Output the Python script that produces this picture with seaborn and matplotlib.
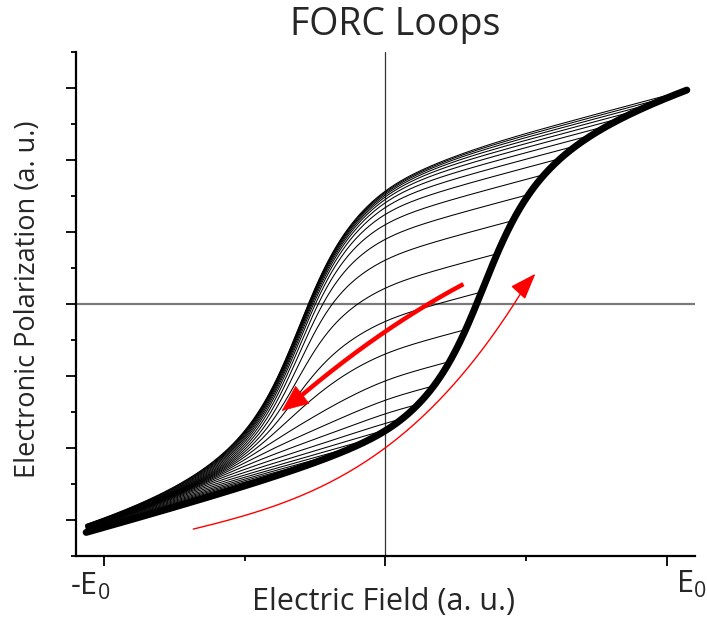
import numpy as np
import pandas as pd
import matplotlib
matplotlib.use("Agg")
import matplotlib.pyplot as plt
import seaborn as sns

# Major loop branches (field E in units of E0, polarization in a.u.)
lower_E = [-1.064, -0.844, -0.610, -0.372, -0.230, -0.078, 0.043, 0.149, 0.223, 0.277,
           0.323, 0.362, 0.404, 0.454, 0.504, 0.560, 0.631, 0.720, 0.809, 0.904, 0.986, 1.071]
lower_P = [-3.069, -2.903, -2.681, -2.403, -2.208, -1.903, -1.653, -1.333, -0.958, -0.542,
           0.014, 0.472, 0.889, 1.194, 1.472, 1.722, 1.986, 2.250, 2.472, 2.694, 2.875, 3.083]
upper_E = [-1.064, -0.904, -0.727, -0.585, -0.489, -0.418, -0.372, -0.301, -0.266, -0.195,
           -0.135, -0.064, 0.007, 0.099, 0.220, 0.454, 0.691, 0.929, 1.071]
upper_P = [-3.069, -2.819, -2.486, -2.069, -1.708, -1.236, -0.819, -0.222, 0.014, 0.611,
           0.986, 1.306, 1.542, 1.764, 1.958, 2.375, 2.694, 2.931, 3.083]

# Reversal fields of the first-order reversal curves
reversal_fields = [1.071, 1.015, 0.959, 0.902, 0.846, 0.790, 0.734, 0.678, 0.622, 0.565,
                   0.509, 0.453, 0.397, 0.341, 0.285, 0.228, 0.172, 0.116, 0.060, 0.004,
                   -0.053, -0.109, -0.165, -0.221, -0.277, -0.334, -0.390, -0.446, -0.502,
                   -0.558, -0.614, -0.671, -0.727, -0.783, -0.839, -0.895, -0.951, -1.008]

# Guide arrows (direction of field sweep)
sweep_up_E = [-0.683, -0.373, -0.124, 0.000, 0.114, 0.231, 0.348, 0.444, 0.504]
sweep_up_P = [-3.14, -2.72, -2.35, -2.03, -1.65, -1.15, -0.54, -0.08, 0.26]
sweep_up_tip = (0.533, 0.42)
sweep_down_E = [0.277, 0.124, 0.007, -0.135, -0.256, -0.300]
sweep_down_P = [0.264, -0.042, -0.361, -0.778, -1.153, -1.25]
sweep_down_tip = (-0.369, -1.486)

E_MIN, E_MAX = lower_E[0], lower_E[-1]


# ---------------------------------------------------------------------------
# Preisach hysteron model: each hysteron switches up at alpha = Eu + Ec and
# down at beta = Eu - Ec, with Lorentzian distributions of Ec and Eu, plus a
# reversible A*tanh(E/b) contribution.  Parameters are fitted to the branches.
# ---------------------------------------------------------------------------
Ec_grid = np.linspace(0.001, 3.0, 1500)


def unpack(p):
    A, logb, S, u0, log_gu, c, log_gc = p
    return A, np.exp(logb), S, u0, np.exp(log_gu), c, np.exp(log_gc)


def polarization(p, E, Er):
    """Polarization on the descending curve from reversal field Er down to E."""
    A, b, S, u0, gu, c, gc = unpack(p)
    w = 1.0 / (1.0 + ((Ec_grid - c) / gc) ** 2)
    w = w / w.sum()
    E = np.atleast_1d(np.asarray(E, float))
    Er = np.broadcast_to(np.asarray(Er, float), E.shape)
    bound = np.minimum(Er[:, None] - Ec_grid[None, :], E[:, None] + Ec_grid[None, :])
    up = (0.5 + np.arctan((bound - u0) / gu) / np.pi) @ w
    return A * np.tanh(E / b) - S + 2 * S * up


def loss(p):
    A, b, S, u0, gu, c, gc = unpack(p)
    if not (0.003 < gu < 1.0 and 0.003 < gc < 1.0 and 0.02 < b < 20 and S > 0):
        return 1e6
    r1 = polarization(p, lower_E, lower_E) - np.asarray(lower_P)
    r2 = polarization(p, upper_E, E_MAX) - np.asarray(upper_P)
    return float(np.sum(r1 ** 2) + np.sum(r2 ** 2) + 2 * r1[0] ** 2 + 2 * r2[0] ** 2)


def nelder_mead(f, x0, steps, n_iter=2500):
    n = len(x0)
    simplex = [np.array(x0, float)]
    for i in range(n):
        x = np.array(x0, float)
        x[i] += steps[i]
        simplex.append(x)
    simplex = np.array(simplex)
    vals = np.array([f(x) for x in simplex])
    for _ in range(n_iter):
        order = np.argsort(vals)
        simplex, vals = simplex[order], vals[order]
        if vals[-1] - vals[0] < 1e-12:
            break
        centroid = simplex[:-1].mean(axis=0)
        xr = centroid + (centroid - simplex[-1])
        fr = f(xr)
        if fr < vals[0]:
            xe = centroid + 2 * (centroid - simplex[-1])
            fe = f(xe)
            if fe < fr:
                simplex[-1], vals[-1] = xe, fe
            else:
                simplex[-1], vals[-1] = xr, fr
        elif fr < vals[-2]:
            simplex[-1], vals[-1] = xr, fr
        else:
            if fr < vals[-1]:
                xc = centroid + 0.5 * (xr - centroid)
            else:
                xc = centroid + 0.5 * (simplex[-1] - centroid)
            fc = f(xc)
            if fc < min(fr, vals[-1]):
                simplex[-1], vals[-1] = xc, fc
            else:
                simplex[1:] = simplex[0] + 0.5 * (simplex[1:] - simplex[0])
                vals[1:] = [f(x) for x in simplex[1:]]
    return simplex[np.argmin(vals)]


starts = [
    [1.2, np.log(1.2), 2.2, 0.03, np.log(0.05), 0.30, np.log(0.06)],
    [0.8, np.log(0.6), 2.4, 0.02, np.log(0.08), 0.28, np.log(0.04)],
    [1.5, np.log(2.0), 2.0, 0.04, np.log(0.03), 0.32, np.log(0.10)],
]
steps = np.array([0.3, 0.3, 0.3, 0.03, 0.4, 0.05, 0.4])
best, best_val = None, np.inf
for s in starts:
    p = np.array(s, float)
    for scale in (1.0, 0.3, 0.1):
        p = nelder_mead(loss, p, steps * scale)
    v = loss(p)
    if v < best_val:
        best, best_val = p, v
params = best

# Reversal curves: each descends from its reversal point on the ascending branch
frames = []
for i, Er in enumerate(reversal_fields):
    E = np.linspace(E_MIN, Er, 300)
    frames.append(pd.DataFrame({"E": E, "P": polarization(params, E, Er), "curve": i}))
forc = pd.concat(frames, ignore_index=True)

E_branch = np.linspace(E_MIN, E_MAX, 700)
branch = pd.DataFrame({"E": E_branch, "P": polarization(params, E_branch, E_branch)})

sns.set_style("ticks")
plt.rcParams["font.family"] = ["Open Sans", "DejaVu Sans"]
plt.rcParams["mathtext.fontset"] = "custom"
plt.rcParams["mathtext.rm"] = "Open Sans"
plt.rcParams["mathtext.it"] = "Open Sans:italic"

fig = plt.figure(figsize=(7.07, 6.18), dpi=100)
ax = fig.add_axes([0.1075, 0.1003, 0.8755, 0.8156])

ax.axhline(0, color="#7a7a7a", lw=1.6, zorder=1)
ax.axvline(0, color="#333333", lw=0.9, zorder=1)

sns.lineplot(data=forc, x="E", y="P", units="curve", estimator=None, sort=False,
             color="black", lw=0.75, ax=ax, zorder=3, legend=False)
sns.lineplot(data=branch, x="E", y="P", estimator=None, sort=False,
             color="black", lw=5.0, ax=ax, zorder=4, legend=False)

# sweep-direction arrows (smooth guide curves)
up_E = np.linspace(sweep_up_E[0], sweep_up_E[-1], 150)
up_P = np.polyval(np.polyfit(sweep_up_E, sweep_up_P, 3), up_E)
ax.plot(up_E, up_P, color="red", lw=1.0, zorder=5)
ax.annotate("", xy=sweep_up_tip, xytext=(up_E[-1], up_P[-1]),
            arrowprops=dict(arrowstyle="-|>,head_length=0.55,head_width=0.2",
                            mutation_scale=30, color="red", lw=1.0,
                            shrinkA=0, shrinkB=0), zorder=5)
dn_E = np.linspace(sweep_down_E[0], sweep_down_E[-1], 150)
dn_P = np.polyval(np.polyfit(sweep_down_E, sweep_down_P, 2), dn_E)
ax.plot(dn_E, dn_P, color="red", lw=3.2, zorder=5, solid_capstyle="butt")
ax.annotate("", xy=sweep_down_tip, xytext=(dn_E[-1], dn_P[-1]),
            arrowprops=dict(arrowstyle="-|>,head_length=0.7,head_width=0.3",
                            mutation_scale=26, color="red", lw=0.5,
                            shrinkA=0, shrinkB=0), zorder=5)

ax.set_xlim(-1.1, 1.1)
ax.set_ylim(-3.5, 3.5)
ax.set_xticks([-1, 0, 1])
ax.set_xticks([-0.5, 0.5], minor=True)
ax.set_yticks(np.arange(-3, 4, 1))
ax.set_yticks(np.arange(-3.5, 4.0, 1.0), minor=True)
ax.set_xticklabels([])
ax.set_yticklabels([])
ax.set_xlabel("")
ax.set_ylabel("")
ax.tick_params(which="major", direction="out", length=7, width=1.3, color="black")
ax.tick_params(which="minor", direction="out", length=3.5, width=1.3, color="black")
for side in ("top", "right"):
    ax.spines[side].set_visible(False)
for side in ("left", "bottom"):
    ax.spines[side].set_linewidth(1.6)
    ax.spines[side].set_color("black")

W, H = 707, 618
fig.text(395.5 / W, 1 - 35 / H, "FORC Loops", fontsize=27, ha="center", va="baseline")
fig.text(384 / W, 1 - 610 / H, "Electric Field (a. u.)", fontsize=22,
         ha="center", va="baseline")
fig.text(35 / W, 1 - 299 / H, "Electronic Polarization (a. u.)", fontsize=19.5,
         rotation=90, rotation_mode="anchor", ha="center", va="baseline")
fig.text(90 / W, 1 - 595 / H, r"-E$_0$", fontsize=22, ha="center", va="baseline")
fig.text(691 / W, 1 - 593 / H, r"E$_0$", fontsize=22, ha="center", va="baseline")

fig.savefig("out.png", dpi=100)
